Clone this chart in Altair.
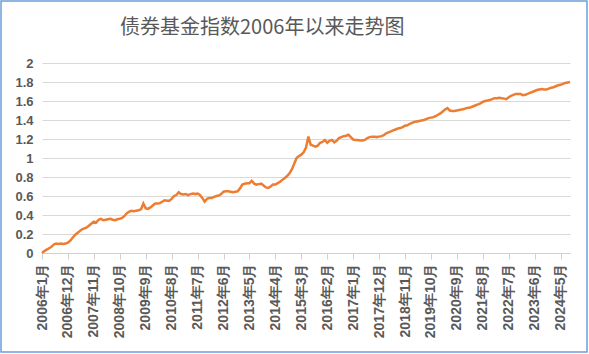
import altair as alt
import pandas as pd

title_text = "债券基金指数2006年以来走势图"

tick_labels = ["2006年1月", "2006年12月", "2007年11月", "2008年10月", "2009年9月",
               "2010年8月", "2011年7月", "2012年6月", "2013年5月", "2014年4月",
               "2015年3月", "2016年2月", "2017年1月", "2017年12月", "2018年11月",
               "2019年10月", "2020年9月", "2021年8月", "2022年7月", "2023年6月",
               "2024年5月"]

v2006 = [0.00, 0.02, 0.035, 0.05, 0.065, 0.09, 0.10, 0.095, 0.10, 0.095, 0.10, 0.11]
v2007 = [0.13, 0.16, 0.19, 0.21, 0.23, 0.25, 0.26, 0.27, 0.29, 0.31, 0.33, 0.32]
v2008 = [0.35, 0.36, 0.345, 0.35, 0.355, 0.36, 0.35, 0.345, 0.355, 0.36, 0.37, 0.39]
v2009 = [0.42, 0.435, 0.445, 0.44, 0.445, 0.45, 0.46, 0.52, 0.47, 0.465, 0.48, 0.50]
v2010 = [0.52, 0.52, 0.525, 0.54, 0.555, 0.55, 0.55, 0.57, 0.60, 0.61, 0.64, 0.62]
v2011 = [0.615, 0.62, 0.61, 0.62, 0.625, 0.62, 0.625, 0.61, 0.58, 0.54, 0.57, 0.58]
v2012 = [0.58, 0.59, 0.60, 0.605, 0.62, 0.645, 0.65, 0.65, 0.645, 0.64, 0.645, 0.65]
v2013 = [0.68, 0.72, 0.73, 0.735, 0.735, 0.76, 0.73, 0.72, 0.725, 0.73, 0.71, 0.69]
v2014 = [0.685, 0.70, 0.72, 0.72, 0.735, 0.75, 0.77, 0.79, 0.81, 0.84, 0.88, 0.94]
v2015 = [1.00, 1.02, 1.035, 1.06, 1.11, 1.225, 1.14, 1.13, 1.12, 1.13, 1.16, 1.17]
v2016 = [1.19, 1.16, 1.18, 1.19, 1.165, 1.18, 1.21, 1.22, 1.23, 1.235, 1.245, 1.22]
v2017 = [1.195, 1.19, 1.19, 1.185, 1.185, 1.19, 1.21, 1.22, 1.225, 1.225, 1.22, 1.225]
v2018 = [1.23, 1.24, 1.26, 1.27, 1.28, 1.29, 1.30, 1.31, 1.315, 1.325, 1.34, 1.345]
v2019 = [1.36, 1.37, 1.38, 1.385, 1.39, 1.395, 1.40, 1.41, 1.42, 1.425, 1.43, 1.44]
v2020 = [1.455, 1.47, 1.49, 1.51, 1.525, 1.50, 1.495, 1.495, 1.50, 1.505, 1.51, 1.515]
v2021 = [1.525, 1.53, 1.535, 1.545, 1.555, 1.565, 1.575, 1.59, 1.60, 1.605, 1.61, 1.62]
v2022 = [1.63, 1.63, 1.635, 1.63, 1.625, 1.62, 1.64, 1.655, 1.665, 1.675, 1.675, 1.675]
v2023 = [1.66, 1.665, 1.675, 1.685, 1.695, 1.705, 1.715, 1.72, 1.725, 1.72, 1.72, 1.73]
v2024 = [1.74, 1.745, 1.755, 1.765, 1.77, 1.78, 1.79, 1.795, 1.80]

values = (v2006 + v2007 + v2008 + v2009 + v2010 + v2011 + v2012 + v2013 + v2014 +
          v2015 + v2016 + v2017 + v2018 + v2019 + v2020 + v2021 + v2022 + v2023 + v2024)

df = pd.DataFrame({"idx": list(range(len(values))), "v": values})

label_arr = "[" + ",".join("'" + s + "'" for s in tick_labels) + "]"
tick_vals = [i * 11 for i in range(len(tick_labels))]

W, H = 528, 190
PL, PT = 42, 63

line = alt.Chart(df).mark_line(color="#ED7D31", strokeWidth=2.5).encode(
    x=alt.X("idx:Q", scale=alt.Scale(domain=[0, len(values) - 1], nice=False, zero=False),
            axis=alt.Axis(values=tick_vals, labelExpr=label_arr + "[round(datum.value/11)]",
                          labelAngle=270, labelFont="Liberation Sans", labelFontSize=14,
                          labelFontWeight="bold", labelColor="#595959", labelPadding=4,
                          tickColor="#D0D0D0", tickSize=6, domainColor="#D0D0D0",
                          grid=False, title=None, labelOverlap=False, labelFlush=False)),
    y=alt.Y("v:Q", scale=alt.Scale(domain=[0, 2], nice=False),
            axis=alt.Axis(values=[0, 0.2, 0.4, 0.6, 0.8, 1, 1.2, 1.4, 1.6, 1.8, 2],
                          format="~g", labelFont="Liberation Sans", labelFontSize=13,
                          labelFontWeight="bold", labelColor="#595959", labelPadding=9,
                          ticks=False, domain=False, grid=True, gridColor="#D9D9D9",
                          gridWidth=1.2, title=None))
)

border = alt.Chart(pd.DataFrame({"a": [0]})).mark_rect(
    fillOpacity=0, stroke="#6A9FD8", strokeWidth=1.5
).encode(
    x=alt.value(1 - PL), x2=alt.value(587 - PL),
    y=alt.value(1 - PT), y2=alt.value(352 - PT)
)

chart = alt.layer(line, border).properties(
    width=W, height=H,
    title=alt.TitleParams(title_text, anchor="start", frame="group", dx=78, dy=38,
                          font="Noto Sans CJK SC", fontSize=20, fontWeight="normal",
                          color="#595959", offset=0)
).configure(
    autosize=alt.AutoSizeParams(type="none"),
    padding={"left": PL, "top": PT, "right": 589 - PL - W, "bottom": 354 - PT - H},
    background="white"
).configure_view(stroke=None)

chart.save("out.html", embed_options={"renderer": "svg", "actions": False})
